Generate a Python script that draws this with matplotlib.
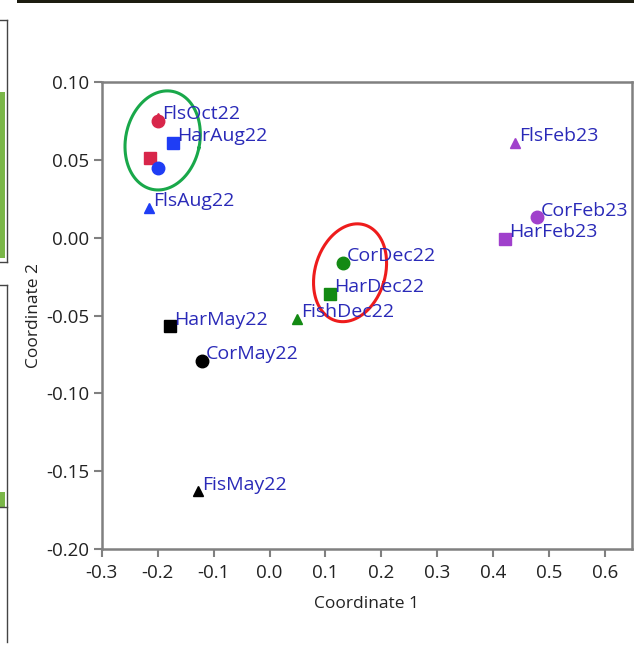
import numpy as np
import matplotlib.pyplot as plt
from matplotlib.lines import Line2D
from matplotlib.patches import Rectangle

# sample points (Coordinate 1, Coordinate 2)
labels  = ["FlsOct22", "", "HarAug22", "", "FlsAug22",
           "FlsFeb23", "CorFeb23", "HarFeb23",
           "CorDec22", "HarDec22", "FishDec22",
           "HarMay22", "CorMay22", "FisMay22"]
coord1  = [-0.200, -0.214, -0.173, -0.200, -0.216,
           0.439, 0.478, 0.421,
           0.131, 0.108, 0.049,
           -0.178, -0.121, -0.128]
coord2  = [0.075, 0.051, 0.061, 0.045, 0.019,
           0.061, 0.013, -0.001,
           -0.016, -0.036, -0.052,
           -0.057, -0.079, -0.163]
markers = ["o", "s", "s", "o", "^",
           "^", "o", "s",
           "o", "s", "^",
           "s", "o", "^"]
colors  = ["#d8264a", "#d8264a", "#1f3df5", "#1f3df5", "#1f3df5",
           "#a040cc", "#a040cc", "#a040cc",
           "#138a13", "#138a13", "#138a13",
           "#000000", "#000000", "#000000"]

xticks = [-0.3, -0.2, -0.1, 0.0, 0.1, 0.2, 0.3, 0.4, 0.5, 0.6]
yticks = [0.10, 0.05, 0.00, -0.05, -0.10, -0.15, -0.20]

plt.rcParams['font.family'] = ['Open Sans', 'DejaVu Sans']

fig = plt.figure(figsize=(6.34, 6.46), dpi=100)
ax = fig.add_axes([0.1604, 0.150, 0.8364, 0.723])

sizes = {"o": 9, "s": 9, "^": 7.5}
for x, y, m, c in zip(coord1, coord2, markers, colors):
    ax.plot(x, y, marker=m, color=c, markersize=sizes[m], linestyle="none")
# second red marker overlapping the FlsOct22 circle
ax.plot(coord1[0], coord2[0] + 0.002, marker="^", color=colors[0],
        markersize=6.5, linestyle="none")

for x, y, t in zip(coord1, coord2, labels):
    if t:
        ax.annotate(t, (x, y), xytext=(3, 5), textcoords="offset points",
                    ha="left", va="center", fontsize=14, color="#2a2ab8")

ax.set_xlim(-0.3, 0.648)
ax.set_ylim(-0.20, 0.10)
ax.set_xticks(xticks)
ax.set_xticklabels(["%.1f" % v for v in xticks])
ax.set_yticks(yticks)
ax.set_yticklabels(["%.2f" % v for v in yticks])
ax.tick_params(direction="out", length=6, width=1.5, color="#808080",
               labelsize=13.5, labelcolor="#222222", pad=3)
ax.tick_params(axis="x", pad=5)
for s in ax.spines.values():
    s.set_color("#808080")
    s.set_linewidth(1.8)
ax.set_xlabel("Coordinate 1", fontsize=12.5, color="#222222", labelpad=10)
ax.set_ylabel("Coordinate 2", fontsize=12.5, color="#222222", labelpad=3)

# highlight ellipses, drawn in pixel units then mapped to data
def ellipse(cx, cy, a, b, ang, col):
    t = np.linspace(0, 2 * np.pi, 200)
    th = np.deg2rad(ang)
    px = a * np.cos(t) * np.cos(th) - b * np.sin(t) * np.sin(th)
    py = a * np.cos(t) * np.sin(th) + b * np.sin(t) * np.cos(th)
    xs = cx + px / 559.2
    ys = cy + py / 1556.0
    ax.plot(xs, ys, color=col, linewidth=2.2)

ellipse(-0.191, 0.0625, 37, 50, -12, "#19a84a")
ellipse(0.144, -0.0225, 35, 50, -17, "#ee1c1c")

# screenshot remnants around the chart
fig.add_artist(Rectangle((17 / 634, 1 - 3 / 646), 1, 3 / 646, transform=fig.transFigure,
                         color="#1c1c10", lw=0))
fig.add_artist(Rectangle((0, 1 - 258 / 646), 5 / 634, 166 / 646, transform=fig.transFigure,
                         color="#7ab648", lw=0))
fig.add_artist(Rectangle((0, 1 - 507 / 646), 5 / 634, 15 / 646, transform=fig.transFigure,
                         color="#7ab648", lw=0))
for seg in [((0, 7), (20, 20)), ((7, 7), (20, 262)), ((0, 7), (262, 262)),
            ((0, 7), (285, 285)), ((7, 7), (285, 642)), ((0, 7), (507, 507))]:
    fig.add_artist(Line2D([p / 634 for p in seg[0]], [1 - p / 646 for p in seg[1]],
                          transform=fig.transFigure, color="#444444", lw=1))

fig.savefig("out.png", dpi=100)
